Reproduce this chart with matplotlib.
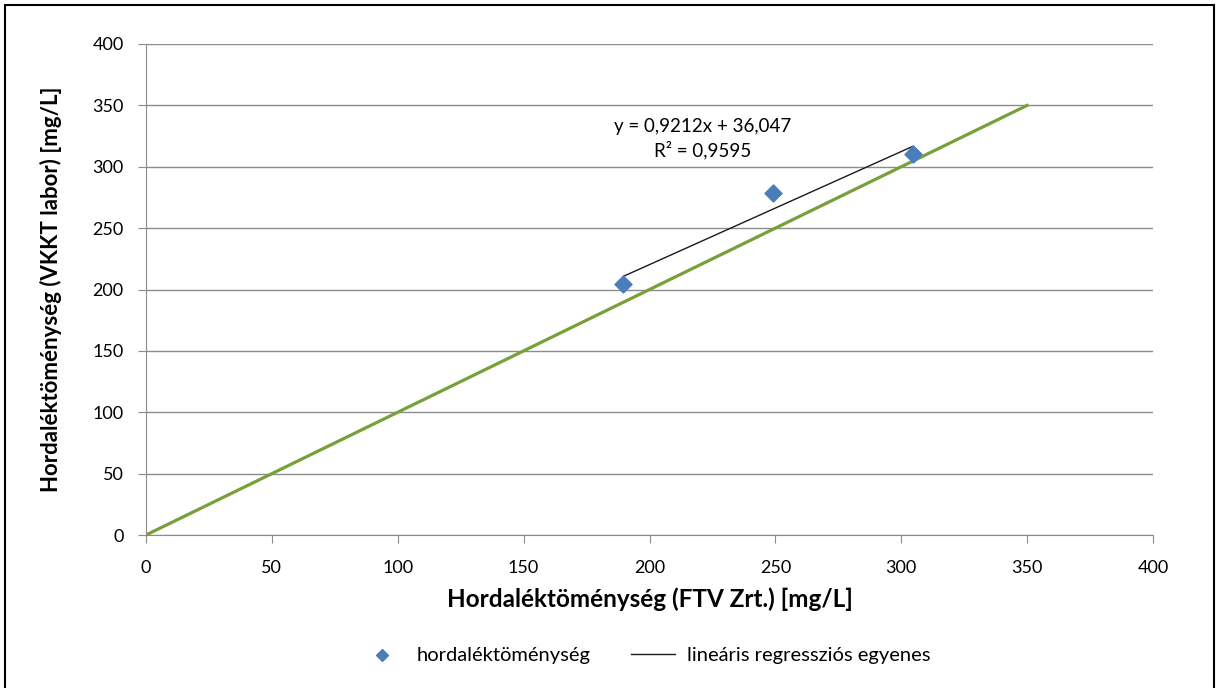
import matplotlib
matplotlib.use("Agg")
import matplotlib.pyplot as plt
from matplotlib.patches import Rectangle

plt.rcParams['font.family'] = ['Lato', 'DejaVu Sans']

# measured data (FTV Zrt. vs VKKT labor)
ftv = [189.5, 249, 304.5]
vkkt = [204.5, 279, 310.5]

# regression coefficients as printed on the chart
slope = 0.9212
intercept = 36.047
r2 = 0.9595

# y = x reference line
ref_x = [0, 350]
ref_y = [0, 350]

xticks = [0, 50, 100, 150, 200, 250, 300, 350, 400]
yticks = [0, 50, 100, 150, 200, 250, 300, 350, 400]

fig = plt.figure(figsize=(12.18, 6.88), dpi=100)
ax = fig.add_axes([146 / 1218, 1 - 535 / 688, (1153 - 146) / 1218, (535 - 44) / 688])

grid_col = '#8c8c8c'
ax.set_xlim(0, 400)
ax.set_ylim(0, 400)
ax.set_xticks(xticks)
ax.set_yticks(yticks)
ax.yaxis.grid(True, color=grid_col, linewidth=1)
ax.set_axisbelow(True)
for s in ['top', 'right']:
    ax.spines[s].set_visible(False)
for s in ['left', 'bottom']:
    ax.spines[s].set_color(grid_col)
ax.tick_params(direction='out', length=6, color=grid_col, labelsize=13)
ax.tick_params(axis='x', pad=12)
ax.tick_params(axis='y', pad=10)

ax.plot(ref_x, ref_y, color='#77a03a', linewidth=2.3, zorder=2)

xmin, xmax = min(ftv), max(ftv)
ax.plot([xmin, xmax], [slope * xmin + intercept, slope * xmax + intercept],
        color='#1a1a1a', linewidth=1, zorder=3, label='lineáris regressziós egyenes')
ax.scatter(ftv, vkkt, marker='D', s=75, color='#4a7ebb', zorder=4,
           label='hordaléktöménység')

eq = ('y = ' + f'{slope:.4f}'.replace('.', ',') + 'x + ' + f'{intercept:.3f}'.replace('.', ',')
      + '\nR² = ' + f'{r2:.4f}'.replace('.', ','))
ax.text(221, 323, eq, ha='center', va='center', fontsize=13.5, linespacing=1.35)

ax.set_xlabel('Hordaléktöménység (FTV Zrt.) [mg/L]', fontsize=17.5, fontweight='bold', labelpad=8)
ax.set_ylabel('Hordaléktöménység (VKKT labor) [mg/L]', fontsize=16, fontweight='bold', labelpad=22)

h, l = ax.get_legend_handles_labels()
fig.legend(h[::-1], l[::-1], loc='center', bbox_to_anchor=(0.53, 1 - 655 / 688), ncol=2,
           frameon=False, fontsize=14.5, handlelength=2.2, handletextpad=0.6,
           columnspacing=2.0, markerscale=0.7)

fig.patches.append(Rectangle((0.004, -0.01), 0.993, 1.003, transform=fig.transFigure,
                             fill=False, edgecolor='black', linewidth=1.5))

fig.savefig('out.png', dpi=100)
